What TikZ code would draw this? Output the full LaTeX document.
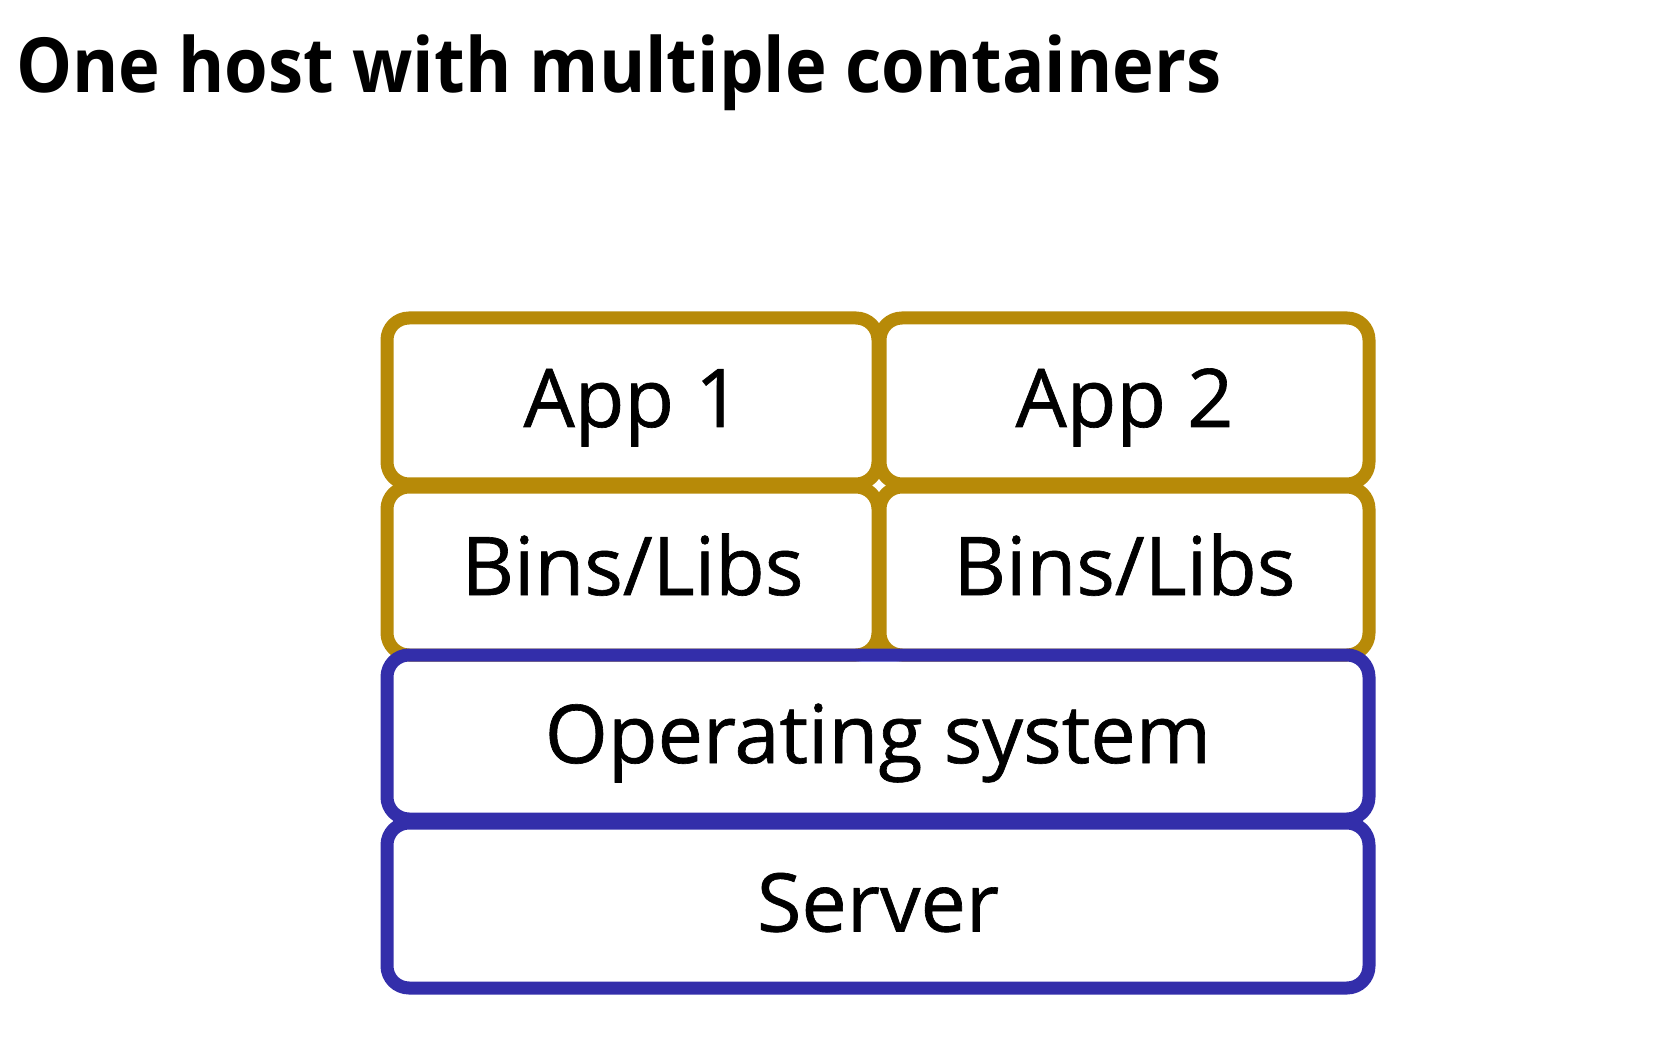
\documentclass[tikz,border=0pt]{standalone}
\usepackage{fontspec}
\setmainfont{Open Sans}
\newfontfamily\titlefont[FakeStretch=0.928]{Open Sans}
\newfontfamily\labelfont[FakeBold=0.8]{Open Sans}
\definecolor{gold}{RGB}{183,138,8}
\definecolor{hostblue}{RGB}{51,46,170}
\tikzset{
  layer/.style={draw, line width=13pt, rounded corners=22pt, inner sep=0pt, outer sep=0pt, fill=none},
  goldbox/.style={layer, draw=gold},
  bluebox/.style={layer, draw=hostblue},
  lbl/.style={anchor=base, inner sep=0pt, font=\labelfont\fontsize{81}{90}\selectfont},
}
\begin{document}
\begin{tikzpicture}[x=1pt,y=-1pt]
\useasboundingbox (0,0) rectangle (1674,1048);
\node[anchor=base west, inner sep=0pt, font=\titlefont\fontsize{76}{84}\selectfont\bfseries] (title) at (16,93) {One host with multiple containers};
% container layers
\node[goldbox, minimum width=491pt, minimum height=166pt] (app1) at (632.5,401) {};
\node[goldbox, minimum width=489pt, minimum height=166pt] (app2) at (1124.5,401) {};
\node[goldbox, minimum width=491pt, minimum height=168pt] (bins1) at (632.5,571) {};
\node[goldbox, minimum width=489pt, minimum height=168pt] (bins2) at (1124.5,571) {};
% host layers
\node[bluebox, minimum width=982pt, minimum height=164pt] (os) at (878,737) {};
\node[bluebox, minimum width=982pt, minimum height=165pt] (server) at (878,905.5) {};
% labels
\node[lbl] (t1) at ([yshift=-26pt]app1.center) {App 1};
\node[lbl] (t2) at ([yshift=-26pt]app2.center) {App 2};
\node[lbl] (t3) at ([yshift=-24pt]bins1.center) {Bins/Libs};
\node[lbl] (t4) at ([yshift=-24pt]bins2.center) {Bins/Libs};
\node[lbl] (t5) at ([yshift=-26pt]os.center) {Operating system};
\node[lbl] (t6) at ([yshift=-26pt]server.center) {Server};
\end{tikzpicture}
\end{document}
